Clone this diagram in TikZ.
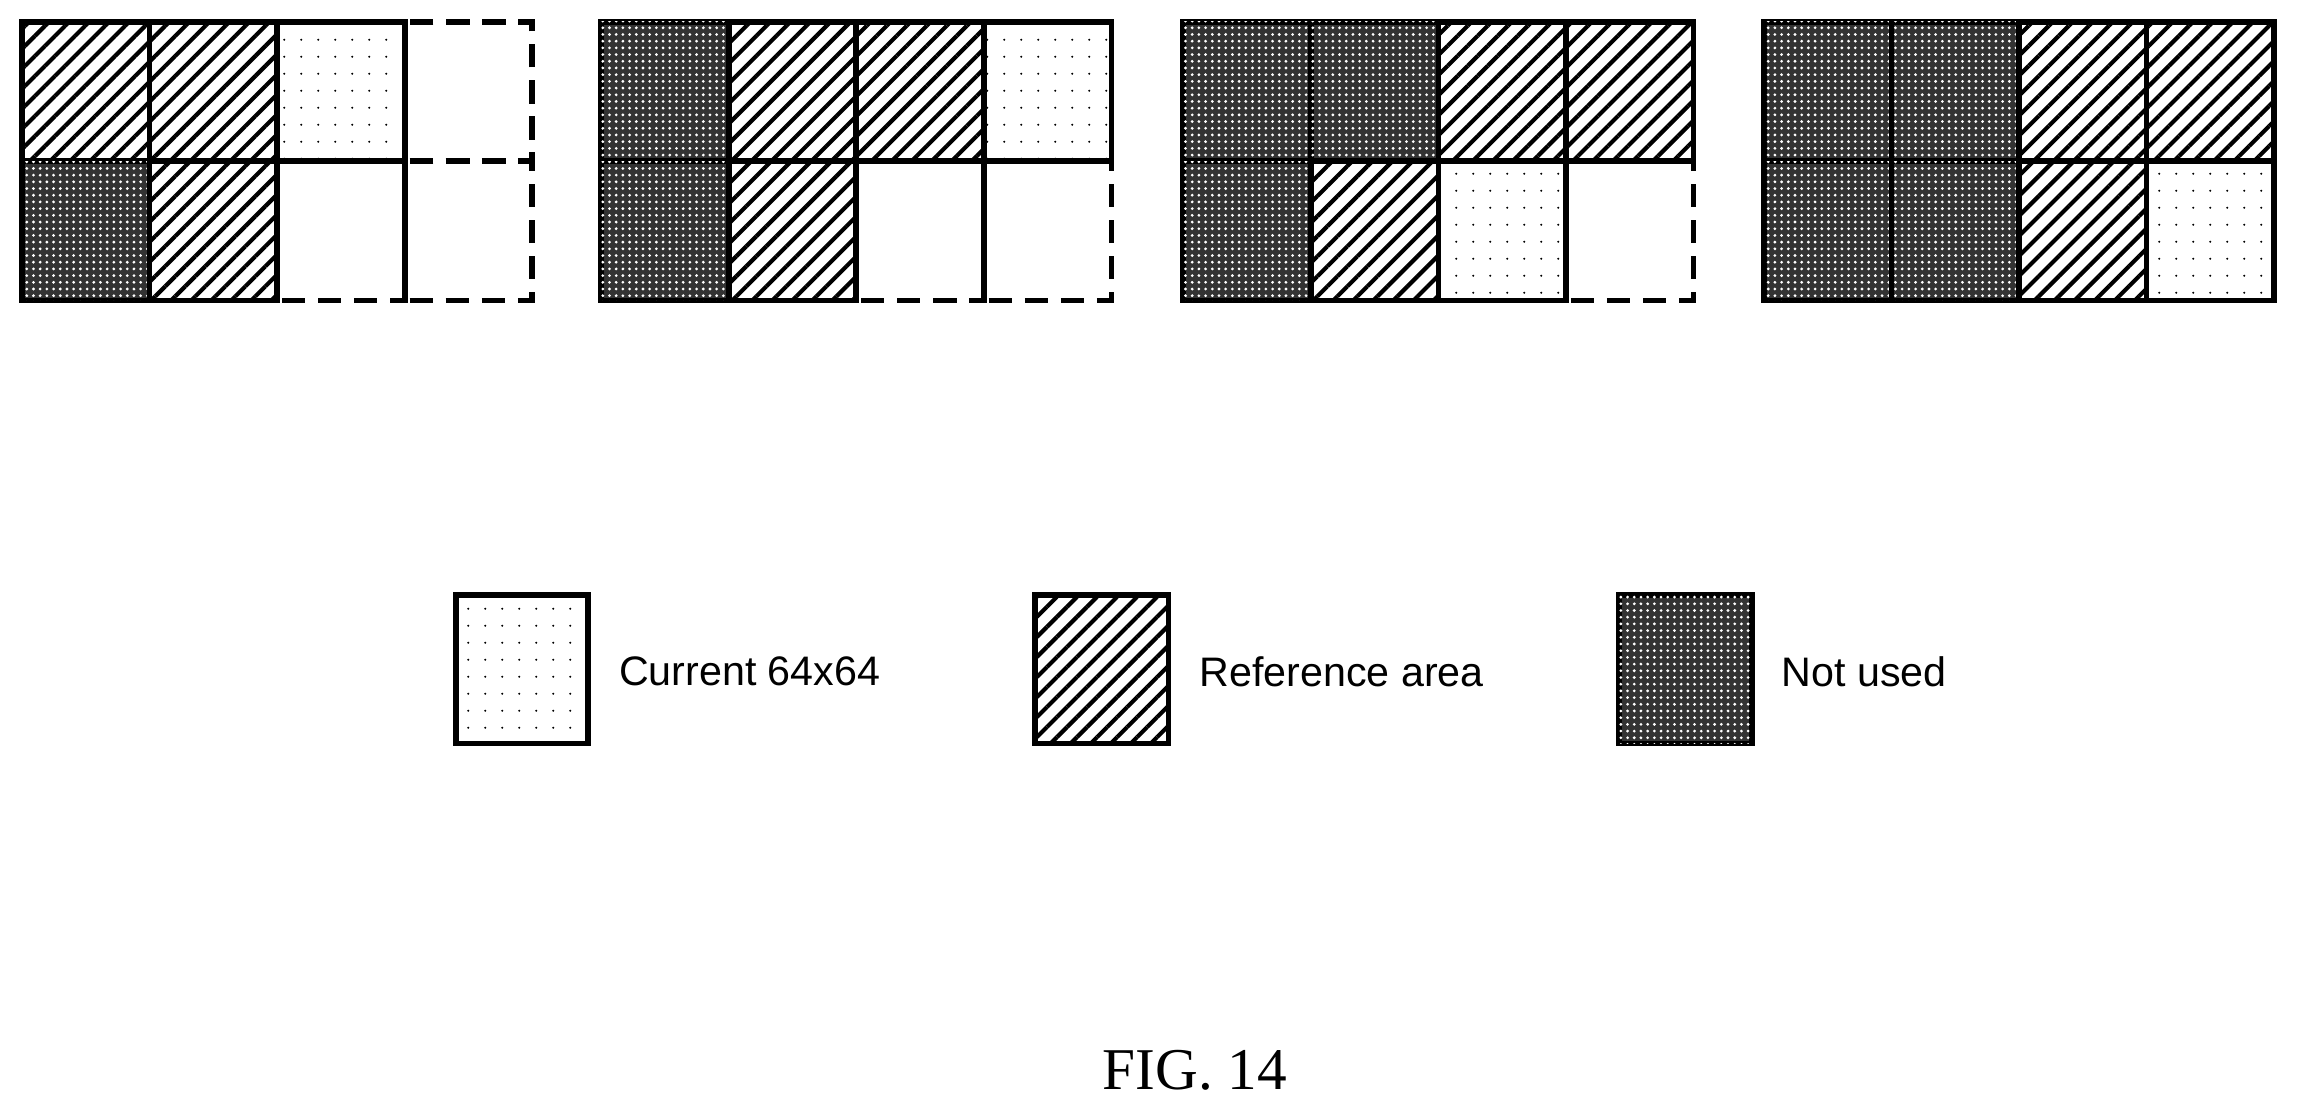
\documentclass[tikz,border=0pt]{standalone}
\usepackage{fontspec}
\setmainfont{Liberation Serif}
\setsansfont{Liberation Sans}
\usetikzlibrary{patterns.meta}
\begin{document}
\begin{tikzpicture}[x=0.02cm,y=-0.02cm]
\tikzset{
  blk/.style={draw=black,line width=2.2pt},
  cur/.style={blk,pattern={Dots[distance=6.5pt,radius=0.45pt]},pattern color=black},
  refa/.style={blk,pattern={Lines[angle=45,distance=5.5pt,line width=1.6pt]},pattern color=black},
  nus/.style={blk,fill=black!80,postaction={pattern={Dots[distance=2.6pt,radius=0.6pt]},pattern color=white}},
  emp/.style={draw=black,line width=2.2pt,dash pattern=on 9pt off 5pt}
}
\useasboundingbox (0,0) rectangle (1568,759);
% cell macro: group x, column, row, style
\newcommand{\cell}[4]{\path[#4] (#1+87*#2,15+95*#3) rectangle ++(87,95);}
% group 1
\cell{15}{3}{0}{emp}
\cell{15}{2}{1}{emp}
\cell{15}{3}{1}{emp}
\cell{15}{0}{0}{refa}
\cell{15}{1}{0}{refa}
\cell{15}{2}{0}{cur}
\cell{15}{0}{1}{nus}
\cell{15}{1}{1}{refa}
% group 2
\cell{410}{2}{1}{emp}
\cell{410}{3}{1}{emp}
\cell{410}{0}{0}{nus}
\cell{410}{1}{0}{refa}
\cell{410}{2}{0}{refa}
\cell{410}{3}{0}{cur}
\cell{410}{0}{1}{nus}
\cell{410}{1}{1}{refa}
% group 3
\cell{807}{3}{1}{emp}
\cell{807}{0}{0}{nus}
\cell{807}{1}{0}{nus}
\cell{807}{2}{0}{refa}
\cell{807}{3}{0}{refa}
\cell{807}{0}{1}{nus}
\cell{807}{1}{1}{refa}
\cell{807}{2}{1}{cur}
% group 4
\cell{1203}{0}{0}{nus}
\cell{1203}{1}{0}{nus}
\cell{1203}{2}{0}{refa}
\cell{1203}{3}{0}{refa}
\cell{1203}{0}{1}{nus}
\cell{1203}{1}{1}{nus}
\cell{1203}{2}{1}{refa}
\cell{1203}{3}{1}{cur}
% legend
\path[cur] (311,406) rectangle (401,507);
\node[anchor=west,font=\sffamily\fontsize{16}{18}\selectfont] (lcur) at (416,458) {Current 64x64};
\path[refa] (706,406) rectangle (797,507);
\node[anchor=west,font=\sffamily\fontsize{16}{18}\selectfont] (lref) at (812,458) {Reference area};
\path[nus] (1104,406) rectangle (1195,507);
\node[anchor=west,font=\sffamily\fontsize{16}{18}\selectfont] (lnus) at (1209,458) {Not used};
\node[font=\fontsize{23}{26}\selectfont] (fig) at (815,730) {FIG. 14};
\end{tikzpicture}
\end{document}
